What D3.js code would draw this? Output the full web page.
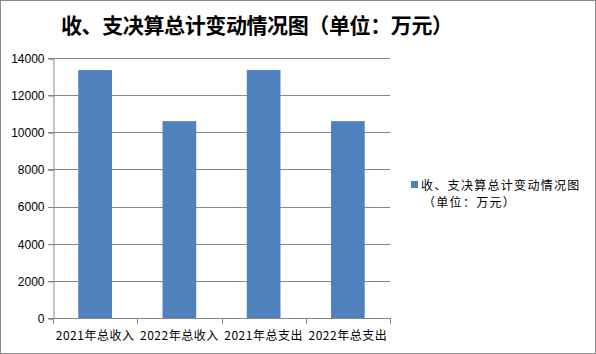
<!DOCTYPE html>
<html>
<head>
<meta charset="utf-8">
<script src="https://cdn.jsdelivr.net/npm/d3@7"></script>
<style>
  body { margin: 0; background: #fff; }
  svg { display: block; font-family: "Noto Sans CJK SC", "DejaVu Sans", sans-serif; }
</style>
</head>
<body>
<div id="chart"></div>
<script>
const categories = ['2021年总收入', '2022年总收入', '2021年总支出', '2022年总支出'];
const values = [13350, 10600, 13350, 10600];
const yTicks = [0, 2000, 4000, 6000, 8000, 10000, 12000, 14000];
const title = '收、支决算总计变动情况图（单位：万元）';
const legendLines = ['收、支决算总计变动情况图', '（单位：万元）'];

const width = 596, height = 354;
const plot = { left: 53, right: 390, top: 58, bottom: 318 };
const barColor = '#4F81BD';
const gridColor = '#878787';

const svg = d3.select('#chart').append('svg')
    .attr('width', width)
    .attr('height', height);

// outer border
svg.append('rect')
    .attr('x', 0.5).attr('y', 0.5)
    .attr('width', width - 1).attr('height', height - 1)
    .attr('fill', '#fff')
    .attr('stroke', '#898989');

svg.append('text')
    .attr('x', 61).attr('y', 33)
    .attr('font-size', 21)
    .attr('font-weight', 'bold')
    .attr('textLength', 392)
    .attr('lengthAdjust', 'spacing')
    .text(title);

const x = d3.scaleBand()
    .domain(categories)
    .range([plot.left, plot.right])
    .paddingInner(0.6)
    .paddingOuter(0.3);

const y = d3.scaleLinear()
    .domain([0, 14000])
    .range([plot.bottom, plot.top]);

// gridlines
svg.append('g')
  .selectAll('line')
  .data(yTicks)
  .join('line')
    .attr('x1', plot.left - 5).attr('x2', plot.right)
    .attr('y1', d => Math.round(y(d)) + 0.5)
    .attr('y2', d => Math.round(y(d)) + 0.5)
    .attr('stroke', gridColor);

// bars
svg.append('g')
  .selectAll('rect')
  .data(values)
  .join('rect')
    .attr('x', (d, i) => x(categories[i]))
    .attr('width', x.bandwidth())
    .attr('y', d => y(d))
    .attr('height', d => y(0) - y(d))
    .attr('fill', barColor);

// y axis
const yAxis = svg.append('g')
    .attr('transform', `translate(${plot.left + 0.5},0.5)`)
    .call(d3.axisLeft(y).tickValues(yTicks).tickFormat(d3.format('d')).tickSizeOuter(0).tickSize(5));
yAxis.select('.domain').attr('stroke', gridColor);
yAxis.selectAll('line').attr('stroke', gridColor);
yAxis.selectAll('text').attr('font-size', 12).attr('fill', '#000')
    .attr('font-family', '"Liberation Sans", sans-serif').attr('dx', -1);

// x axis with category boundary ticks
const xg = svg.append('g');
xg.append('line')
    .attr('x1', plot.left).attr('x2', plot.right)
    .attr('y1', plot.bottom + 0.5).attr('y2', plot.bottom + 0.5)
    .attr('stroke', gridColor);
const bounds = categories.map((c, i) => plot.left + i * x.step() * (plot.right - plot.left) / (x.step() * categories.length));
bounds.push(plot.right);
xg.selectAll('line.tick')
  .data(bounds)
  .join('line')
    .attr('class', 'tick')
    .attr('x1', d => Math.round(d) + 0.5).attr('x2', d => Math.round(d) + 0.5)
    .attr('y1', plot.bottom).attr('y2', plot.bottom + 6)
    .attr('stroke', gridColor);
xg.selectAll('text')
  .data(categories)
  .join('text')
    .attr('x', d => x(d) + x.bandwidth() / 2)
    .attr('y', 340)
    .attr('text-anchor', 'middle')
    .attr('font-size', 12)
    .attr('letter-spacing', 0.5)
    .text(d => d);

// legend
const legend = svg.append('g');
legend.append('rect')
    .attr('x', 411).attr('y', 181)
    .attr('width', 7).attr('height', 7)
    .attr('fill', barColor);
legend.selectAll('text')
  .data(legendLines)
  .join('text')
    .attr('x', (d, i) => i === 0 ? 421 : 423)
    .attr('y', (d, i) => 190 + i * 17)
    .attr('font-size', 12)
    .attr('letter-spacing', 1.3)
    .text(d => d);
</script>
</body>
</html>
